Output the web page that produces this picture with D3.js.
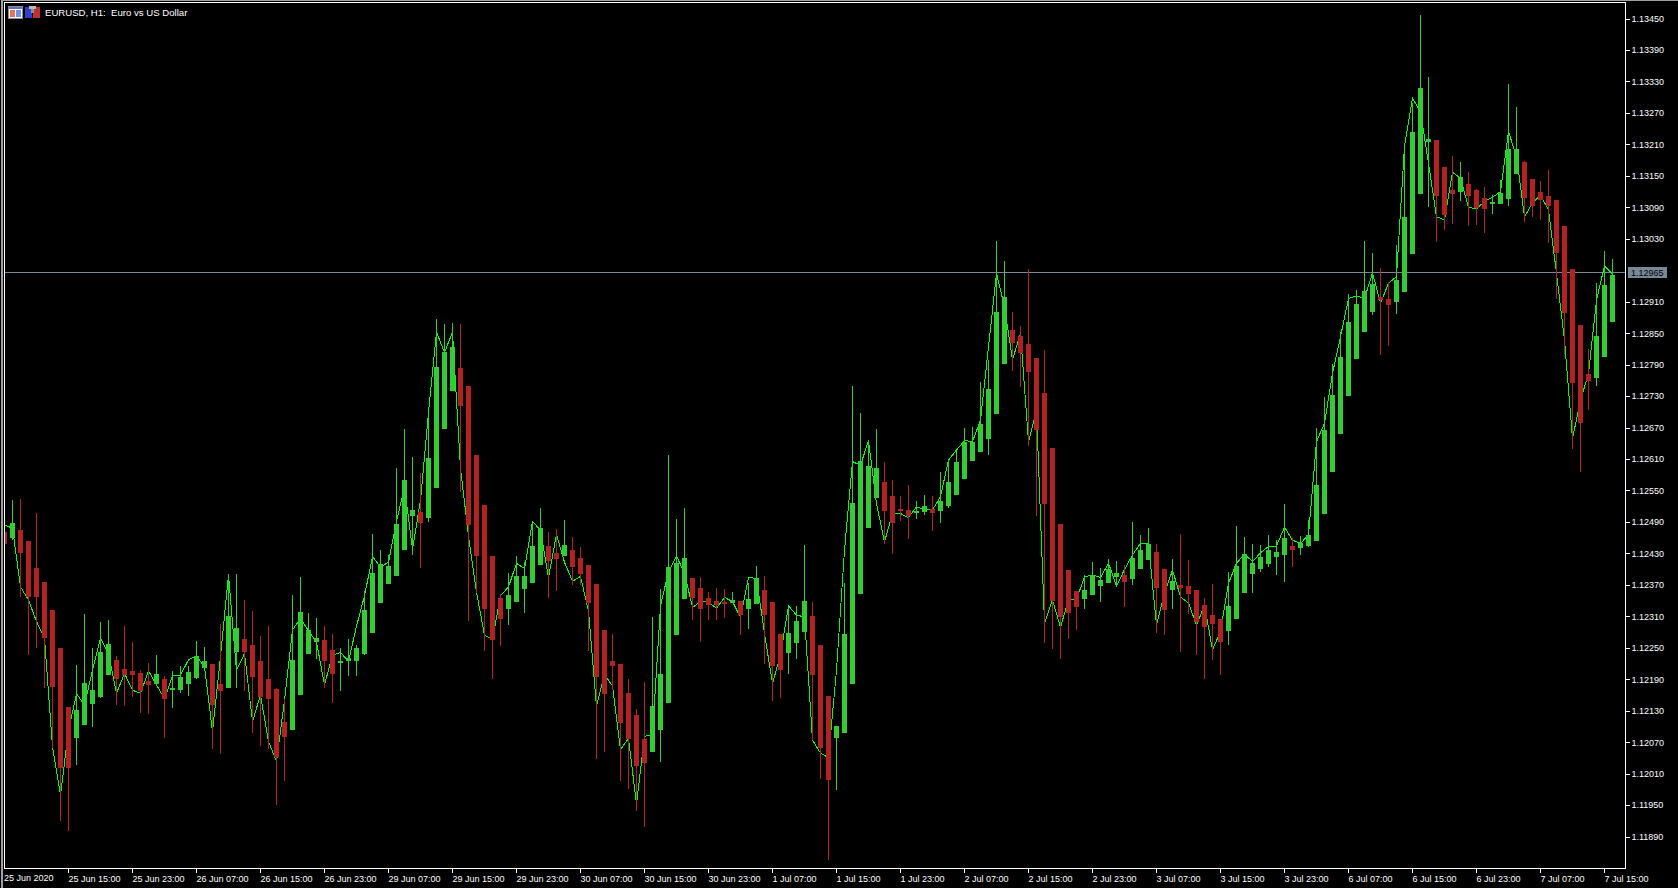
<!DOCTYPE html>
<html>
<head>
<meta charset="utf-8">
<script src="https://cdnjs.cloudflare.com/ajax/libs/d3/7.8.5/d3.min.js"></script>
<style>
html,body{margin:0;padding:0;background:#000;overflow:hidden}
svg{display:block}
text{font-family:"Liberation Sans",sans-serif;font-size:9px;fill:#fff}
</style>
</head>
<body>
<svg id="chart" width="1678" height="888"></svg>
<script>
// Prices are written in points above 1.10000 (1 point = 0.00001)
const priceBase = 1.1, pointSize = 0.00001;
const openPts = [2471,2459,2474,2453,2402,2375,2322,2249,2137,2078,
2103,2143,2156,2198,2227,2209,2206,2202,2186,2181,
2190,2169,2169,2181,2192,2211,2219,2181,2173,2242,
2267,2255,2225,2190,2171,2108,2093,2160,2238,2261,
2265,2246,2221,2224,2225,2238,2279,2336,2372,2387,
2436,2501,2509,2498,2555,2667,2739,2784,2749,2618,
2522,2424,2345,2324,2338,2362,2374,2408,2444,2431,
2424,2436,2421,2408,2372,2284,2224,2219,2164,2122,
2075,2052,2093,2145,2274,2343,2383,2364,2345,2339,
2337,2335,2339,2324,2333,2360,2337,2276,2240,2259,
2280,2310,2255,2158,2078,2087,2181,2352,2478,2535,
2566,2539,2514,2513,2507,2509,2514,2511,2520,2541,
2572,2606,2623,2648,2696,2791,2856,2844,2829,2802,
2736,2631,2486,2398,2358,2343,2351,2368,2373,2385,
2389,2381,2400,2417,2433,2400,2360,2370,2368,2360,
2331,2312,2305,2282,2305,2354,2391,2400,2410,2423,
2427,2444,2440,2444,2453,2505,2585,2658,2730,2801,
2852,2890,2919,2915,2909,2928,3000,3115,3214,3218,
3167,3123,3119,3134,3123,3108,3096,3096,3106,3153,
3176,3144,3119,3112,3104,3054,2972,2865,2772,2764,2805,2871];
const closePts = [2448,2488,2431,2347,2347,2268,2175,2021,2021,2131,
2183,2169,2242,2257,2190,2198,2198,2167,2179,2200,
2152,2173,2194,2204,2234,2225,2141,2167,2310,2288,
2242,2194,2156,2152,2042,2080,2227,2318,2284,2268,
2225,2200,2225,2231,2250,2322,2393,2410,2406,2486,
2570,2513,2488,2612,2785,2814,2824,2711,2484,2425,
2324,2265,2305,2351,2387,2387,2444,2478,2416,2419,
2446,2404,2391,2336,2195,2161,2216,2107,2076,2025,
2031,2138,2200,2404,2412,2421,2345,2324,2331,2331,
2333,2341,2312,2343,2383,2312,2215,2207,2278,2301,
2339,2198,2059,1998,2101,2276,2526,2606,2597,2593,
2511,2488,2511,2501,2511,2520,2507,2530,2566,2604,
2642,2642,2677,2743,2890,2919,2831,2812,2776,2665,
2524,2339,2309,2316,2328,2360,2389,2379,2400,2392,
2375,2421,2436,2448,2364,2322,2377,2364,2352,2299,
2290,2295,2261,2330,2406,2429,2412,2423,2436,2433,
2459,2436,2450,2465,2560,2665,2732,2804,2871,2906,
2930,2944,2913,2904,2951,3071,3234,3317,3220,3112,
3075,3115,3148,3112,3088,3087,3100,3117,3201,3201,
3108,3092,3104,3092,3003,2888,2755,2679,2759,2845,2942,2961];
const highPts = [2474,2532,2534,2453,2507,2375,2322,2249,2137,2217,
2314,2249,2299,2303,2234,2291,2261,2207,2221,2236,
2196,2206,2215,2215,2263,2251,2219,2295,2391,2391,
2341,2320,2272,2291,2173,2152,2350,2385,2316,2307,
2291,2276,2249,2267,2256,2359,2467,2436,2427,2593,
2667,2614,2584,2695,2876,2867,2870,2867,2749,2618,
2522,2424,2352,2393,2424,2413,2491,2516,2471,2476,
2494,2462,2443,2408,2372,2284,2276,2219,2191,2134,
2185,2309,2362,2617,2495,2516,2383,2385,2356,2364,
2362,2356,2339,2373,2406,2387,2337,2276,2328,2330,
2446,2337,2255,2158,2101,2373,2749,2698,2646,2667,
2604,2570,2539,2560,2530,2541,2539,2585,2610,2627,
2669,2671,2757,2799,3026,2987,2890,2864,2972,2802,
2818,2631,2486,2398,2358,2389,2413,2402,2419,2415,
2408,2490,2465,2478,2448,2400,2419,2467,2417,2360,
2345,2372,2305,2394,2482,2461,2448,2446,2465,2455,
2524,2459,2463,2494,2669,2728,2792,2852,2925,2932,
3026,3003,2974,2947,3018,3207,3288,3457,3338,3218,
3167,3188,3176,3157,3125,3129,3113,3142,3325,3281,
3178,3144,3140,3161,3104,3054,2972,2865,2820,2946,3007,2991];
const lowPts = [2443,2455,2347,2236,2249,2173,2058,1920,1900,2026,
2103,2099,2154,2198,2141,2139,2156,2125,2124,2179,
2078,2135,2164,2158,2190,2211,2057,2047,2173,2173,
2167,2087,2063,2057,1950,1996,2093,2160,2238,2228,
2173,2145,2168,2196,2196,2236,2279,2336,2372,2387,
2436,2427,2402,2490,2555,2667,2739,2547,2301,2354,
2244,2191,2254,2294,2338,2316,2374,2408,2345,2359,
2424,2370,2369,2244,2038,2052,2170,1995,1981,1938,
1908,2052,2033,2145,2274,2343,2303,2261,2303,2303,
2307,2335,2274,2286,2333,2219,2148,2154,2200,2228,
2280,2074,2000,1845,1979,2087,2181,2352,2478,2535,
2448,2429,2492,2457,2495,2503,2473,2488,2516,2541,
2572,2606,2623,2617,2696,2791,2778,2747,2635,2501,
2259,2248,2228,2267,2284,2324,2351,2337,2373,2366,
2328,2370,2400,2417,2278,2274,2324,2242,2314,2236,
2190,2227,2198,2255,2305,2354,2354,2394,2404,2389,
2375,2404,2427,2442,2453,2505,2585,2658,2730,2801,
2852,2885,2808,2825,2886,2928,3000,3115,3091,3024,
3047,3058,3102,3054,3056,3041,3077,3096,3092,3153,
3062,3071,3066,3022,2915,2810,2629,2585,2703,2749,2805,2871];
const indicatorPts = [2484,2478,2366,2341,2300,2268,2061,1969,2093,2162,
2141,2207,2268,2239,2163,2201,2169,2163,2206,2179,
2153,2196,2198,2227,2234,2214,2090,2233,2389,2207,
2239,2109,2160,2071,2033,2150,2284,2306,2282,2261,
2179,2236,2241,2224,2291,2349,2424,2404,2413,2491,
2556,2438,2531,2699,2852,2813,2852,2592,2463,2356,
2274,2266,2349,2366,2411,2401,2491,2474,2384,2466,
2413,2377,2386,2320,2138,2199,2177,2056,2077,1952,
2081,2084,2330,2395,2425,2392,2327,2338,2337,2325,
2346,2338,2308,2384,2382,2277,2182,2236,2330,2312,
2309,2074,2049,2040,2207,2436,2605,2598,2645,2525,
2452,2506,2506,2498,2519,2513,2513,2538,2608,2627,
2645,2643,2684,2824,2964,2900,2799,2850,2643,2703,
2296,2341,2289,2342,2342,2385,2389,2384,2411,2368,
2399,2427,2449,2449,2293,2354,2398,2347,2335,2293,
2331,2246,2281,2373,2411,2429,2414,2431,2443,2444,
2480,2455,2449,2465,2643,2678,2773,2843,2916,2921,
2916,2965,2907,2945,2958,3206,3298,3272,3174,3072,
3066,3157,3145,3090,3087,3101,3109,3120,3234,3187,
3072,3098,3113,3085,2964,2837,2649,2722,2773,2913,2978,2963];
const timeLabels = ["25 Jun 2020","25 Jun 15:00","25 Jun 23:00","26 Jun 07:00","26 Jun 15:00","26 Jun 23:00",
"29 Jun 07:00","29 Jun 15:00","29 Jun 23:00","30 Jun 07:00","30 Jun 15:00","30 Jun 23:00",
"1 Jul 07:00","1 Jul 15:00","1 Jul 23:00","2 Jul 07:00","2 Jul 15:00","2 Jul 23:00",
"3 Jul 07:00","3 Jul 15:00","3 Jul 23:00","6 Jul 07:00","6 Jul 15:00","6 Jul 23:00",
"7 Jul 07:00","7 Jul 15:00"];
const barsPerLabel = 8;
const priceTicks = ["1.13450","1.13390","1.13330","1.13270","1.13210","1.13150","1.13090","1.13030",
"1.12910","1.12850","1.12790","1.12730","1.12670","1.12610","1.12550","1.12490","1.12430","1.12370",
"1.12310","1.12250","1.12190","1.12130","1.12070","1.12010","1.11950","1.11890"];
const lastPrice = 1.12965;
const chartTitle = "EURUSD, H1:  Euro vs US Dollar";

const toPrice = p => priceBase + p * pointSize;
const UP = "#32CD32", DOWN = "#B22222", LINE = "#00FF00", SLATE = "#778899";
const L = 4, R = 1625, T = 2, B = 868;

const x = d3.scaleLinear().domain([0, 201]).range([4.5, 1612.5]);
const y = d3.scaleLinear().domain([1.1189, 1.1345]).range([836.5, 18.5]);
const ry = v => Math.round(y(v));

const svg = d3.select("#chart");
const defs = svg.append("defs");
defs.append("clipPath").attr("id", "plot").append("rect")
  .attr("x", L + 1).attr("y", T + 1).attr("width", R - L - 1).attr("height", B - T - 1);

// window edge
svg.append("rect").attr("x", 0).attr("y", 0).attr("width", 3).attr("height", 888).attr("fill", "#a0a0a0");
svg.append("rect").attr("x", 0).attr("y", 0).attr("width", 1678).attr("height", 1).attr("fill", "#a0a0a0");
svg.append("rect").attr("x", 0).attr("y", 0).attr("width", 1).attr("height", 888).attr("fill", "#000");

const plot = svg.append("g").attr("clip-path", "url(#plot)");

plot.append("line").attr("x1", L).attr("x2", R)
  .attr("y1", Math.floor(y(lastPrice)) + 0.5).attr("y2", Math.floor(y(lastPrice)) + 0.5)
  .attr("stroke", SLATE).attr("shape-rendering", "crispEdges");

const idx = d3.range(openPts.length);
plot.append("path")
  .attr("d", d3.line().x(i => x(i)).y(i => y(toPrice(indicatorPts[i])))(idx))
  .attr("fill", "none").attr("stroke", LINE).attr("stroke-width", 1)
  .attr("shape-rendering", "crispEdges");

const isUp = i => closePts[i] >= openPts[i];
const colour = i => isUp(i) ? UP : DOWN;
const g = plot.selectAll("g.bar").data(idx).join("g").attr("class", "bar").attr("shape-rendering", "crispEdges");
g.append("line")
  .attr("x1", i => x(i)).attr("x2", i => x(i))
  .attr("y1", i => ry(toPrice(highPts[i]))).attr("y2", i => ry(toPrice(lowPts[i])))
  .attr("stroke", colour);
g.append("rect")
  .attr("x", i => x(i) - 2.5).attr("width", 5)
  .attr("y", i => ry(toPrice(Math.max(openPts[i], closePts[i]))))
  .attr("height", i => Math.max(2, ry(toPrice(Math.min(openPts[i], closePts[i]))) - ry(toPrice(Math.max(openPts[i], closePts[i])))))
  .attr("fill", colour);

// frame
svg.append("rect").attr("x", L + 0.5).attr("y", T + 0.5).attr("width", R - L).attr("height", B - T)
  .attr("fill", "none").attr("stroke", "#fff").attr("shape-rendering", "crispEdges");

// price axis
const yAxis = d3.axisRight(y).tickValues(priceTicks.map(Number)).tickFormat((d, i) => priceTicks[i]).tickSize(4).tickPadding(2);
const ya = svg.append("g").attr("transform", `translate(${R + 0.5},0)`).call(yAxis);
ya.select(".domain").remove();
ya.selectAll("line").attr("stroke", "#fff").attr("shape-rendering", "crispEdges");

// time axis
const tickBars = timeLabels.map((_, i) => i * barsPerLabel);
const xAxis = d3.axisBottom(x).tickValues(tickBars.slice(1)).tickFormat((d, i) => timeLabels[i + 1]).tickSize(4).tickPadding(0);
const xa = svg.append("g").attr("transform", `translate(-0.5,${B + 0.5})`).call(xAxis);
xa.select(".domain").remove();
xa.selectAll("line").attr("stroke", "#fff").attr("shape-rendering", "crispEdges");
xa.selectAll("text").attr("text-anchor", "start").attr("y", 0).attr("dy", 13);
svg.append("text").attr("x", 4).attr("y", B + 13).text(timeLabels[0]);

// last price tag
svg.append("rect").attr("x", 1628).attr("y", 267).attr("width", 39).attr("height", 11).attr("fill", SLATE);
svg.append("text").attr("x", 1631).attr("y", 276).style("fill", "#000").text(lastPrice.toFixed(5));

// title with the two window icons
const ic = svg.append("g").attr("shape-rendering", "crispEdges");
ic.append("rect").attr("x", 8).attr("y", 6).attr("width", 14).attr("height", 12).attr("fill", "#fff").attr("stroke", "#8c8c8c");
ic.append("rect").attr("x", 9).attr("y", 7).attr("width", 13).attr("height", 2).attr("fill", "#5a6fc8");
ic.append("rect").attr("x", 10).attr("y", 10).attr("width", 5).attr("height", 7).attr("fill", "#e8705f");
ic.append("rect").attr("x", 16).attr("y", 10).attr("width", 5).attr("height", 7).attr("fill", "#6f93e4");
ic.append("rect").attr("x", 25).attr("y", 7).attr("width", 7).attr("height", 11).attr("fill", "#2f3fd0");
ic.append("rect").attr("x", 33).attr("y", 7).attr("width", 7).attr("height", 11).attr("fill", "#c03030");
ic.append("rect").attr("x", 29).attr("y", 6).attr("width", 7).attr("height", 3).attr("fill", "#b8b8b8");
ic.append("rect").attr("x", 31).attr("y", 9).attr("width", 3).attr("height", 4).attr("fill", "#909090");
svg.append("text").attr("x", 45).attr("y", 16).style("white-space", "pre").style("font-size", "9.6px").text(chartTitle);
</script>
</body>
</html>
